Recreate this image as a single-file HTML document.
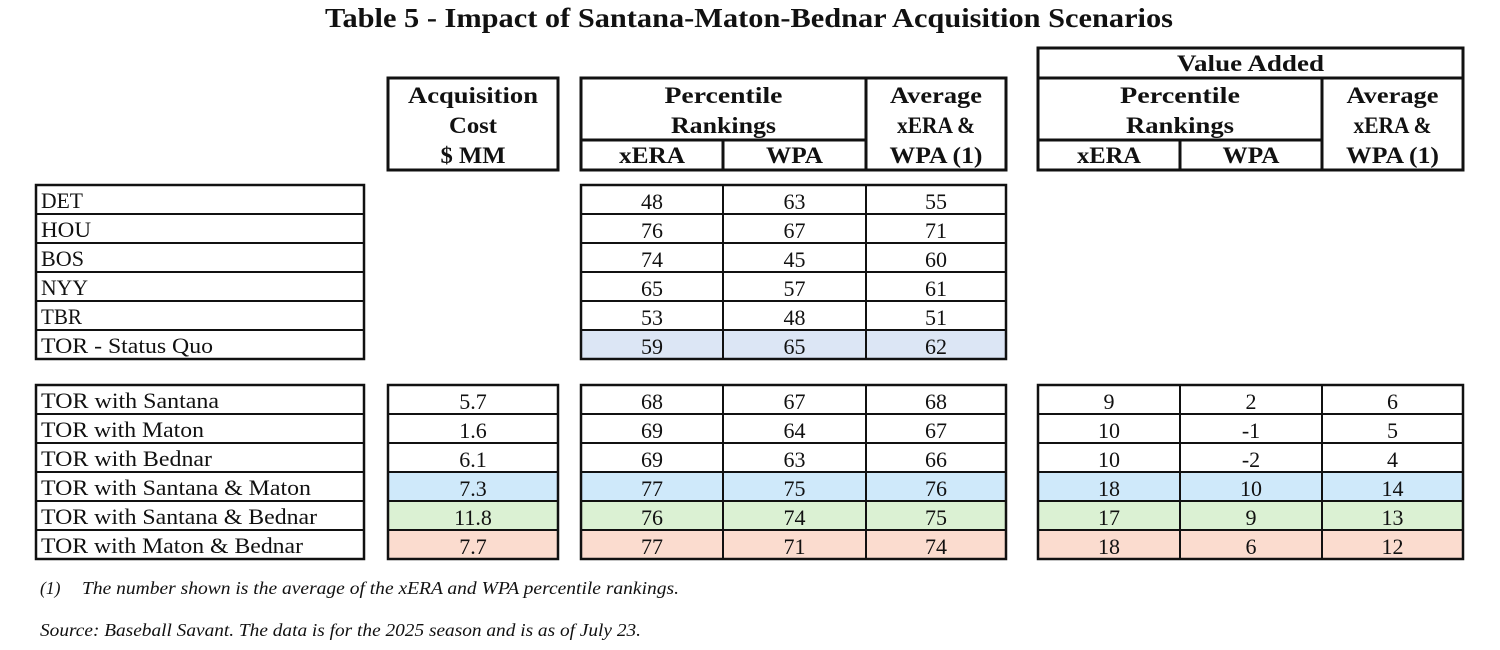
<!DOCTYPE html>
<html><head><meta charset="utf-8"><style>
html,body{margin:0;padding:0;background:#fff;}
svg{display:block;}
text{font-family:"Liberation Serif","DejaVu Serif",serif;fill:#111;}
.h{font-weight:bold;font-size:23px;}
.d{font-size:22px;}
.f{font-style:italic;font-size:17.5px;}
</style></head><body>
<svg width="1500" height="650" viewBox="0 0 1500 650" xmlns="http://www.w3.org/2000/svg">
<rect width="1500" height="650" fill="#fff"/>
<text x="749" y="27" text-anchor="middle" font-size="27" font-weight="bold" textLength="848" lengthAdjust="spacingAndGlyphs">Table 5 - Impact of Santana-Maton-Bednar Acquisition Scenarios</text>

<!-- Header boxes -->
<g fill="none" stroke="#111" stroke-width="3">
<rect x="388" y="78" width="170" height="92"/>
<rect x="581" y="78" width="425" height="92"/>
<line x1="581" y1="140" x2="866" y2="140"/>
<line x1="866" y1="78" x2="866" y2="170"/>
<line x1="723" y1="140" x2="723" y2="170"/>
<rect x="1038" y="48" width="425" height="122"/>
<line x1="1038" y1="78" x2="1463" y2="78"/>
<line x1="1322" y1="78" x2="1322" y2="170"/>
<line x1="1038" y1="140" x2="1322" y2="140"/>
<line x1="1180" y1="140" x2="1180" y2="170"/>
</g>
<g text-anchor="middle">
<text class="h" x="473" y="103" textLength="130" lengthAdjust="spacingAndGlyphs">Acquisition</text>
<text class="h" x="473" y="133" textLength="48" lengthAdjust="spacingAndGlyphs">Cost</text>
<text class="h" x="473" y="163" textLength="65" lengthAdjust="spacingAndGlyphs">$ MM</text>
<text class="h" x="723.5" y="103" textLength="118" lengthAdjust="spacingAndGlyphs">Percentile</text>
<text class="h" x="723.5" y="133" textLength="105" lengthAdjust="spacingAndGlyphs">Rankings</text>
<text class="h" x="652" y="163" textLength="66" lengthAdjust="spacingAndGlyphs">xERA</text>
<text class="h" x="794.5" y="163" textLength="57" lengthAdjust="spacingAndGlyphs">WPA</text>
<text class="h" x="936" y="103" textLength="92" lengthAdjust="spacingAndGlyphs">Average</text>
<text class="h" x="936" y="133" textLength="78" lengthAdjust="spacingAndGlyphs">xERA &amp;</text>
<text class="h" x="936" y="163" textLength="93" lengthAdjust="spacingAndGlyphs">WPA (1)</text>
<text class="h" x="1250.5" y="71" textLength="147" lengthAdjust="spacingAndGlyphs">Value Added</text>
<text class="h" x="1180" y="103" textLength="120" lengthAdjust="spacingAndGlyphs">Percentile</text>
<text class="h" x="1180" y="133" textLength="108" lengthAdjust="spacingAndGlyphs">Rankings</text>
<text class="h" x="1109" y="163" textLength="64" lengthAdjust="spacingAndGlyphs">xERA</text>
<text class="h" x="1251" y="163" textLength="57" lengthAdjust="spacingAndGlyphs">WPA</text>
<text class="h" x="1392.5" y="103" textLength="92" lengthAdjust="spacingAndGlyphs">Average</text>
<text class="h" x="1392.5" y="133" textLength="78" lengthAdjust="spacingAndGlyphs">xERA &amp;</text>
<text class="h" x="1392.5" y="163" textLength="93" lengthAdjust="spacingAndGlyphs">WPA (1)</text>
</g>

<!-- Block 1 fills -->
<rect x="581" y="330" width="425" height="29" fill="#dce6f5"/>
<!-- Block 2 fills -->
<g>
<rect x="388" y="472" width="170" height="29" fill="#cfe9fa"/>
<rect x="581" y="472" width="425" height="29" fill="#cfe9fa"/>
<rect x="1038" y="472" width="425" height="29" fill="#cfe9fa"/>
<rect x="388" y="501" width="170" height="29" fill="#dbf1d3"/>
<rect x="581" y="501" width="425" height="29" fill="#dbf1d3"/>
<rect x="1038" y="501" width="425" height="29" fill="#dbf1d3"/>
<rect x="388" y="530" width="170" height="29" fill="#fbdccf"/>
<rect x="581" y="530" width="425" height="29" fill="#fbdccf"/>
<rect x="1038" y="530" width="425" height="29" fill="#fbdccf"/>
</g>

<!-- Block 1 grid -->
<g fill="none" stroke="#111" stroke-width="2">
<rect x="36" y="185" width="328" height="174" stroke-width="2.5"/>
<line x1="36" y1="214" x2="364" y2="214"/>
<line x1="36" y1="243" x2="364" y2="243"/>
<line x1="36" y1="272" x2="364" y2="272"/>
<line x1="36" y1="301" x2="364" y2="301"/>
<line x1="36" y1="330" x2="364" y2="330"/>
<rect x="581" y="185" width="425" height="174" stroke-width="2.5"/>
<line x1="581" y1="214" x2="1006" y2="214"/>
<line x1="581" y1="243" x2="1006" y2="243"/>
<line x1="581" y1="272" x2="1006" y2="272"/>
<line x1="581" y1="301" x2="1006" y2="301"/>
<line x1="581" y1="330" x2="1006" y2="330"/>
<line x1="723" y1="185" x2="723" y2="359"/>
<line x1="866" y1="185" x2="866" y2="359"/>
</g>

<!-- Block 2 grid -->
<g fill="none" stroke="#111" stroke-width="2">
<rect x="36" y="385" width="328" height="174" stroke-width="2.5"/>
<rect x="388" y="385" width="170" height="174" stroke-width="2.5"/>
<rect x="581" y="385" width="425" height="174" stroke-width="2.5"/>
<rect x="1038" y="385" width="425" height="174" stroke-width="2.5"/>
<line x1="36" y1="414" x2="364" y2="414"/><line x1="388" y1="414" x2="558" y2="414"/><line x1="581" y1="414" x2="1006" y2="414"/><line x1="1038" y1="414" x2="1463" y2="414"/>
<line x1="36" y1="443" x2="364" y2="443"/><line x1="388" y1="443" x2="558" y2="443"/><line x1="581" y1="443" x2="1006" y2="443"/><line x1="1038" y1="443" x2="1463" y2="443"/>
<line x1="36" y1="472" x2="364" y2="472"/><line x1="388" y1="472" x2="558" y2="472"/><line x1="581" y1="472" x2="1006" y2="472"/><line x1="1038" y1="472" x2="1463" y2="472"/>
<line x1="36" y1="501" x2="364" y2="501"/><line x1="388" y1="501" x2="558" y2="501"/><line x1="581" y1="501" x2="1006" y2="501"/><line x1="1038" y1="501" x2="1463" y2="501"/>
<line x1="36" y1="530" x2="364" y2="530"/><line x1="388" y1="530" x2="558" y2="530"/><line x1="581" y1="530" x2="1006" y2="530"/><line x1="1038" y1="530" x2="1463" y2="530"/>
<line x1="723" y1="385" x2="723" y2="559"/>
<line x1="866" y1="385" x2="866" y2="559"/>
<line x1="1180" y1="385" x2="1180" y2="559"/>
<line x1="1322" y1="385" x2="1322" y2="559"/>
</g>

<!-- Block 1 labels -->
<g>
<text class="d" x="41" y="208" textLength="42" lengthAdjust="spacingAndGlyphs">DET</text>
<text class="d" x="41" y="237" textLength="50" lengthAdjust="spacingAndGlyphs">HOU</text>
<text class="d" x="41" y="266" textLength="43" lengthAdjust="spacingAndGlyphs">BOS</text>
<text class="d" x="41" y="295" textLength="47" lengthAdjust="spacingAndGlyphs">NYY</text>
<text class="d" x="41" y="324" textLength="41" lengthAdjust="spacingAndGlyphs">TBR</text>
<text class="d" x="41" y="353" textLength="172" lengthAdjust="spacingAndGlyphs">TOR - Status Quo</text>
</g>
<g text-anchor="middle">
<text class="d" x="652" y="209">48</text><text class="d" x="794.5" y="209">63</text><text class="d" x="936" y="209">55</text>
<text class="d" x="652" y="238">76</text><text class="d" x="794.5" y="238">67</text><text class="d" x="936" y="238">71</text>
<text class="d" x="652" y="267">74</text><text class="d" x="794.5" y="267">45</text><text class="d" x="936" y="267">60</text>
<text class="d" x="652" y="296">65</text><text class="d" x="794.5" y="296">57</text><text class="d" x="936" y="296">61</text>
<text class="d" x="652" y="325">53</text><text class="d" x="794.5" y="325">48</text><text class="d" x="936" y="325">51</text>
<text class="d" x="652" y="354">59</text><text class="d" x="794.5" y="354">65</text><text class="d" x="936" y="354">62</text>
</g>

<!-- Block 2 labels -->
<g>
<text class="d" x="41" y="408" textLength="178" lengthAdjust="spacingAndGlyphs">TOR with Santana</text>
<text class="d" x="41" y="437" textLength="163" lengthAdjust="spacingAndGlyphs">TOR with Maton</text>
<text class="d" x="41" y="466" textLength="171" lengthAdjust="spacingAndGlyphs">TOR with Bednar</text>
<text class="d" x="41" y="495" textLength="270" lengthAdjust="spacingAndGlyphs">TOR with Santana &amp; Maton</text>
<text class="d" x="41" y="524" textLength="276" lengthAdjust="spacingAndGlyphs">TOR with Santana &amp; Bednar</text>
<text class="d" x="41" y="553" textLength="262" lengthAdjust="spacingAndGlyphs">TOR with Maton &amp; Bednar</text>
</g>
<g text-anchor="middle">
<text class="d" x="473" y="409">5.7</text><text class="d" x="652" y="409">68</text><text class="d" x="794.5" y="409">67</text><text class="d" x="936" y="409">68</text><text class="d" x="1109" y="409">9</text><text class="d" x="1251" y="409">2</text><text class="d" x="1392.5" y="409">6</text>
<text class="d" x="473" y="438">1.6</text><text class="d" x="652" y="438">69</text><text class="d" x="794.5" y="438">64</text><text class="d" x="936" y="438">67</text><text class="d" x="1109" y="438">10</text><text class="d" x="1251" y="438">-1</text><text class="d" x="1392.5" y="438">5</text>
<text class="d" x="473" y="467">6.1</text><text class="d" x="652" y="467">69</text><text class="d" x="794.5" y="467">63</text><text class="d" x="936" y="467">66</text><text class="d" x="1109" y="467">10</text><text class="d" x="1251" y="467">-2</text><text class="d" x="1392.5" y="467">4</text>
<text class="d" x="473" y="496">7.3</text><text class="d" x="652" y="496">77</text><text class="d" x="794.5" y="496">75</text><text class="d" x="936" y="496">76</text><text class="d" x="1109" y="496">18</text><text class="d" x="1251" y="496">10</text><text class="d" x="1392.5" y="496">14</text>
<text class="d" x="473" y="525">11.8</text><text class="d" x="652" y="525">76</text><text class="d" x="794.5" y="525">74</text><text class="d" x="936" y="525">75</text><text class="d" x="1109" y="525">17</text><text class="d" x="1251" y="525">9</text><text class="d" x="1392.5" y="525">13</text>
<text class="d" x="473" y="554">7.7</text><text class="d" x="652" y="554">77</text><text class="d" x="794.5" y="554">71</text><text class="d" x="936" y="554">74</text><text class="d" x="1109" y="554">18</text><text class="d" x="1251" y="554">6</text><text class="d" x="1392.5" y="554">12</text>
</g>

<!-- Footnotes -->
<text class="f" x="40" y="594">(1)</text>
<text class="f" x="82" y="594" textLength="597" lengthAdjust="spacingAndGlyphs">The number shown is the average of the xERA and WPA percentile rankings.</text>
<text class="f" x="40" y="636" textLength="601" lengthAdjust="spacingAndGlyphs">Source: Baseball Savant. The data is for the 2025 season and is as of July 23.</text>
</svg>
</body></html>
